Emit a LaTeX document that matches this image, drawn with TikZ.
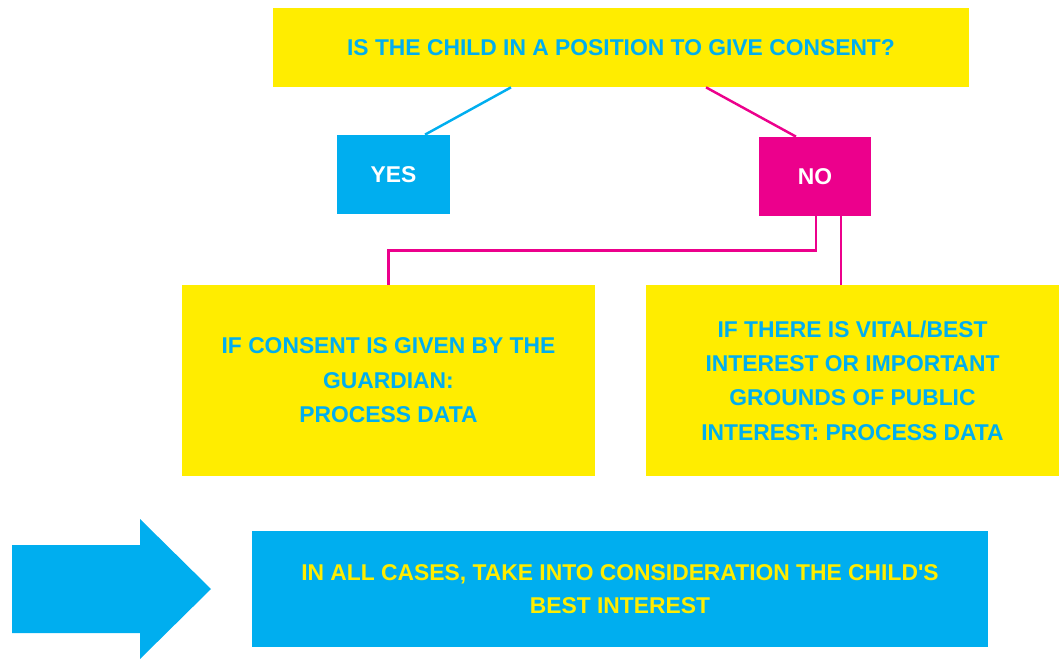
\documentclass[tikz,border=0pt]{standalone}
\usepackage{fontspec}
\setmainfont{Liberation Sans}
\usepackage{xcolor}
\usepackage{tikz}
\usetikzlibrary{positioning,calc}

\definecolor{cyellow}{HTML}{FFED00}
\definecolor{ccyan}{HTML}{00AEEF}
\definecolor{cmagenta}{HTML}{EC008C}

\begin{document}
\begin{tikzpicture}[
  x=0.02cm,y=-0.02cm,
  every node/.style={font=\fontsize{13}{19.6}\selectfont\bfseries,align=center,inner sep=0pt},
  question/.style={rectangle,fill=cyellow,text=ccyan,minimum width=13.92cm,minimum height=1.58cm},
  yesbox/.style={rectangle,fill=ccyan,text=white,minimum width=2.26cm,minimum height=1.58cm},
  nobox/.style={rectangle,fill=cmagenta,text=white,minimum width=2.24cm,minimum height=1.58cm},
  outcome/.style={rectangle,fill=cyellow,text=ccyan,minimum width=8.26cm,minimum height=3.82cm},
  note/.style={rectangle,fill=ccyan,text=cyellow,minimum width=14.72cm,minimum height=2.32cm,
    font=\fontsize{13}{18.8}\selectfont\bfseries},
  yesline/.style={draw=ccyan,line width=1.4pt},
  noline/.style={draw=cmagenta,line width=1.4pt}
]
\useasboundingbox (0,0) rectangle (1063,659);

\node[question] (ask) at (621,47.5) {IS THE CHILD IN A POSITION TO GIVE CONSENT?};
\node[yesbox] (yes) at (393.5,174.5) {YES};
\node[nobox] (no) at (815,176.5) {NO};
\node[outcome] (guard) at (388.5,380.5) {IF CONSENT IS GIVEN BY THE\\GUARDIAN:\\PROCESS DATA};
\node[outcome] (vital) at (852.5,380.5) {IF THERE IS VITAL/BEST\\INTEREST OR IMPORTANT\\GROUNDS OF PUBLIC\\INTEREST: PROCESS DATA};
\node[note] (best) at (620,589) {IN ALL CASES, TAKE INTO CONSIDERATION THE CHILD\textquotesingle S\\BEST INTEREST};

% big arrow pointing at the note
\fill[ccyan] (12,545) -- (140,545) -- (140,519) -- (211,589) -- (140,659) -- (140,633) -- (12,633) -- cycle;

\draw[yesline] ($(ask.south)+(-110,0)$) -- ($(yes.north)+(31.5,0)$);
\draw[noline] ($(ask.south)+(85,0)$) -- ($(no.north)+(-19,0)$);

\coordinate (noa) at ($(no.south)+(1,0)$);
\coordinate (nob) at ($(no.south)+(26,0)$);
\draw[noline] (noa) -- ++(0,34) -| (guard.north);
\draw[noline] (nob) -- (nob |- vital.north);
\end{tikzpicture}
\end{document}
